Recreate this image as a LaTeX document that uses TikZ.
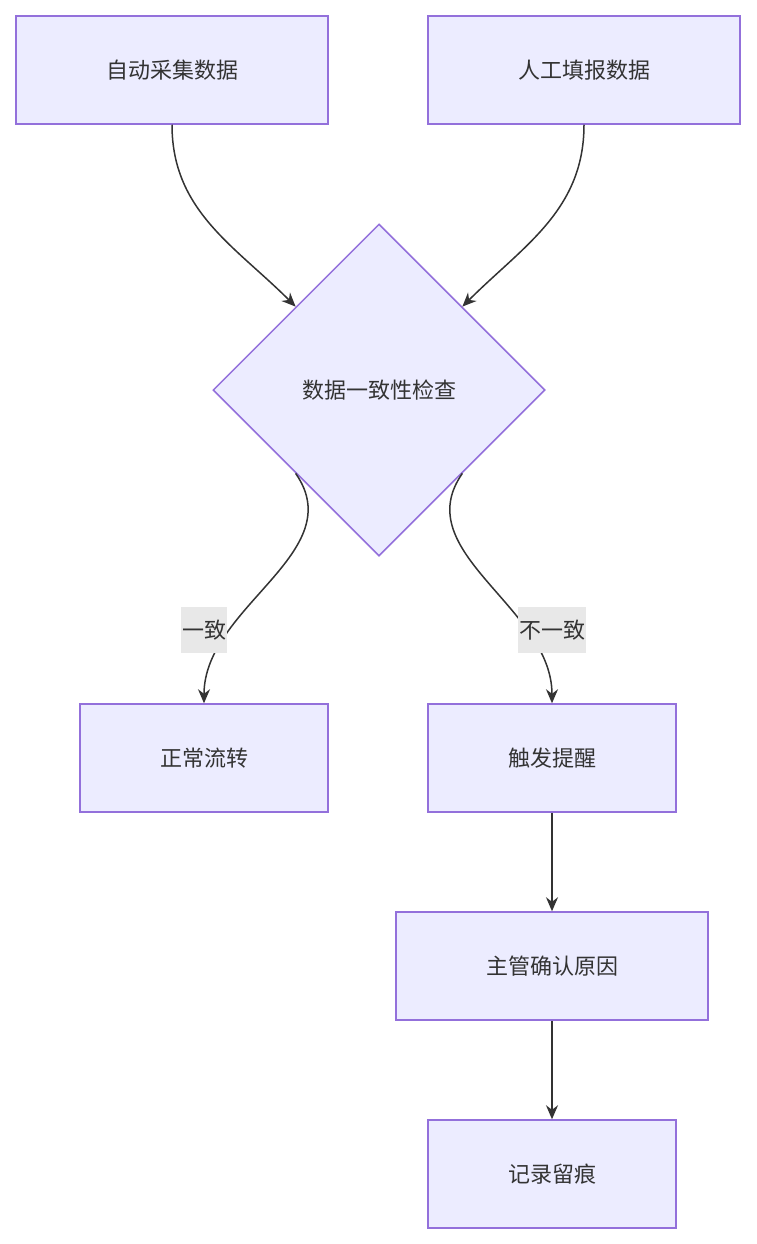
\documentclass[tikz,border=0pt]{standalone}
\usepackage{fontspec}
\setmainfont{Noto Sans CJK SC}
\usetikzlibrary{shapes.geometric,arrows.meta}
\definecolor{boxfill}{HTML}{ECECFF}
\definecolor{boxline}{HTML}{9370DB}
\definecolor{ink}{HTML}{333333}
\definecolor{lblfill}{HTML}{E8E8E8}
\begin{document}
\begin{tikzpicture}[x=1pt,y=-1pt,
  box/.style={draw=boxline,fill=boxfill,line width=1.5pt,text=ink,font=\fontsize{22}{26}\selectfont,minimum height=108pt,inner sep=0pt},
  check/.style={box,shape=diamond,minimum width=332pt,minimum height=332pt},
  lbl/.style={fill=lblfill,text=ink,font=\fontsize{22}{26}\selectfont,inner sep=1pt,minimum height=46pt},
  link/.style={draw=ink,line width=1.5pt,-{Stealth[length=14pt,width=12pt]}}]
\useasboundingbox (0,0) rectangle (756,1244);
\node[box,minimum width=312pt] (auto) at (172,70) {自动采集数据};
\node[box,minimum width=312pt] (manual) at (584,70) {人工填报数据};
\node[check] (check) at (379,390) {数据一致性检查};
\node[box,minimum width=248pt] (normal) at (204,758) {正常流转};
\node[box,minimum width=248pt] (alert) at (552,758) {触发提醒};
\node[box,minimum width=312pt] (confirm) at (552,966) {主管确认原因};
\node[box,minimum width=248pt] (record) at (552,1174) {记录留痕};
% edges
\draw[link] (auto.south) to[out=-90,in=135] (check.north west);
\draw[link] (manual.south) to[out=-90,in=45] (check.north east);
\draw[link] (check.south west) to[out=-55,in=90] (normal.north);
\draw[link] (check.south east) to[out=-125,in=90] (alert.north);
\draw[link] (alert) -- (confirm);
\draw[link] (confirm) -- (record);
\node[lbl] (yes) at (204,630) {一致};
\node[lbl] (no) at (552,630) {不一致};
\end{tikzpicture}
\end{document}
